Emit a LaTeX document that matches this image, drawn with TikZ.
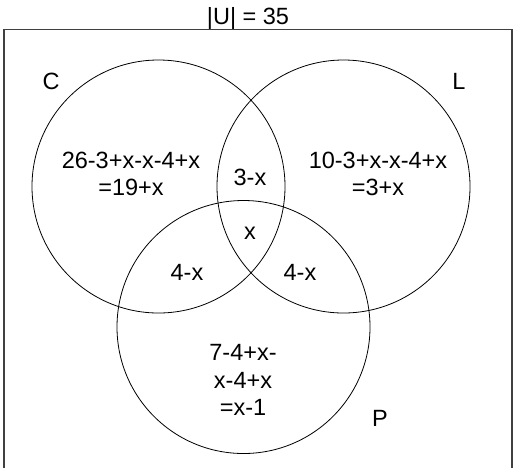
\documentclass[tikz,border=0pt]{standalone}
\usepackage{fontspec}
\setmainfont{Liberation Sans}
\begin{document}
\begin{tikzpicture}[x=1pt,y=-1pt,
  setcirc/.style={circle,draw=black,line width=0.8pt,minimum size=253pt,inner sep=0pt},
  lbl/.style={font=\fontsize{23.5}{27.5}\selectfont,inner sep=0pt,align=center,text=black},
  frame/.style={draw=black!75,line width=1.1pt}]
\useasboundingbox (0,0) rectangle (513,467);
\clip (0,0) rectangle (513,467);
\draw[frame] (4,29.5) rectangle (512,490);
\node[setcirc] (C) at (158.5,186.5) {};
\node[setcirc] (L) at (343.5,186.5) {};
\node[setcirc] (P) at (243.5,327) {};
\node[lbl] (title) at (248,18) {|U| = 35};
\node[lbl] (cl) at (51,81) {C};
\node[lbl] (ll) at (459,81) {L};
\node[lbl] (pl) at (380,418) {P};
\node[lbl] (conly) at (131,174) {26-3+x-x-4+x\\=19+x};
\node[lbl] (lonly) at (378,174) {10-3+x-x-4+x\\=3+x};
\node[lbl] (cl2) at (250,177) {3-x};
\node[lbl] (all) at (250,233) {x};
\node[lbl] (cp) at (187,272) {4-x};
\node[lbl] (lp) at (300,272) {4-x};
\node[lbl] (ponly) at (243,380) {7-4+x-\\x-4+x\\=x-1};
\end{tikzpicture}
\end{document}
